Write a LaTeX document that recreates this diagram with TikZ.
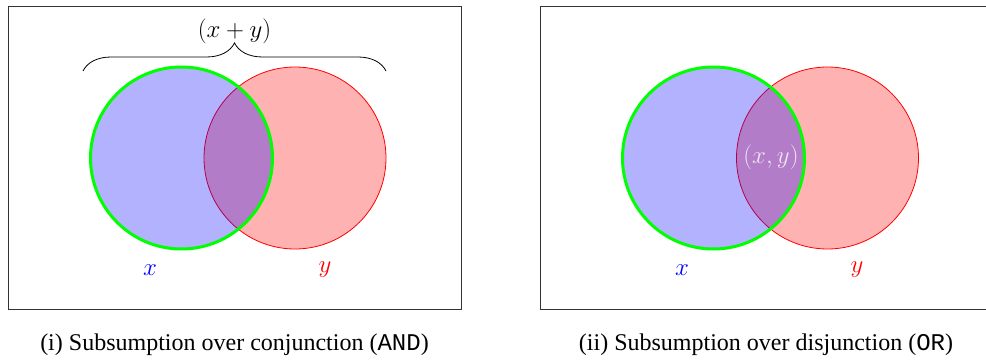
\documentclass[tikz,border=0pt]{standalone}
\usepackage{fontspec}
\setmainfont{Liberation Serif}
\setmonofont{Liberation Mono}
\usetikzlibrary{decorations.pathreplacing}
\begin{document}
\begin{tikzpicture}[x=1pt,y=-1pt,
  frame/.style={draw=black!80, line width=1pt},
  setx/.style={circle, minimum size=182pt, inner sep=0pt, fill=blue, fill opacity=0.3, draw=green, draw opacity=1, line width=3pt},
  sety/.style={circle, minimum size=182pt, inner sep=0pt, fill=red, fill opacity=0.3, draw=red, draw opacity=1, line width=0.8pt},
  mlabel/.style={font=\fontsize{26}{30}\selectfont, inner sep=0pt},
  caption/.style={font=\fontsize{24}{28}\selectfont, inner sep=0pt}]
\useasboundingbox (0,0) rectangle (986,361);
% frames
\node[frame, minimum width=453pt, minimum height=302pt, inner sep=0pt] (boxL) at (234.5,158) {};
\node[frame, minimum width=453pt, minimum height=302pt, inner sep=0pt] (boxR) at (766.5,158) {};
% left diagram
\node[sety] (yL) at (295,158) {};
\node[setx] (xL) at (181.5,158) {};
\coordinate (braceA) at (83,71);
\coordinate (braceB) at (386,71);
\draw[decorate, decoration={brace, amplitude=28pt}, line width=0.8pt] (braceA) -- (braceB);
\node[mlabel] (sumL) at (234.5,31) {$(x+y)$};
\node[mlabel, text=blue] (xlabL) at (150,270) {$x$};
\node[mlabel, text=red] (ylabL) at (325,270) {$y$};
% right diagram
\node[sety] (yR) at (827.5,158) {};
\node[setx] (xR) at (713.5,158) {};
\node[mlabel, text=white, text opacity=0.8] (pairR) at (771,157) {$(x,y)$};
\node[mlabel, text=blue] (xlabR) at (682,270) {$x$};
\node[mlabel, text=red] (ylabR) at (857,270) {$y$};
% captions
\node[caption] (capL) at (234.5,345) {(i) Subsumption over conjunction (\texttt{AND})};
\node[caption] (capR) at (766,345) {(ii) Subsumption over disjunction (\texttt{OR})};
\end{tikzpicture}
\end{document}
